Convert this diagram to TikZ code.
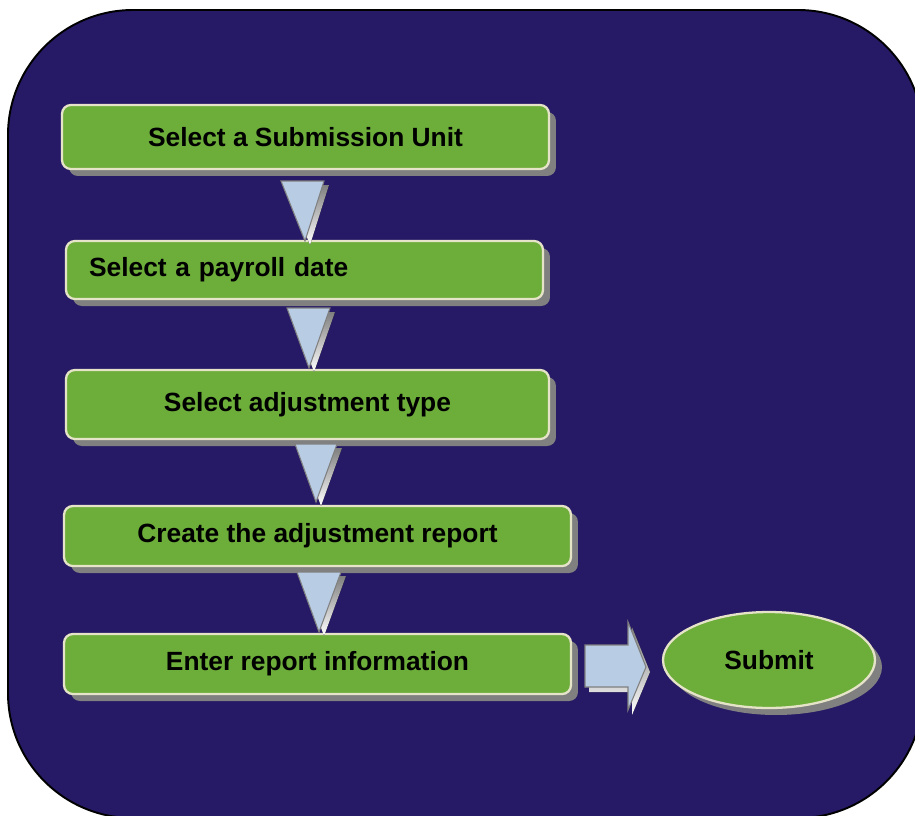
\documentclass[tikz,border=0pt]{standalone}
\usepackage{fontspec}
\setmainfont{Liberation Sans}
\usetikzlibrary{shapes.geometric,shadows}
\definecolor{navy}{RGB}{38,26,102}
\definecolor{leaf}{RGB}{109,174,58}
\definecolor{rim}{RGB}{230,228,200}
\definecolor{sky}{RGB}{184,204,228}
\definecolor{shade}{RGB}{128,128,128}

\begin{document}
\begin{tikzpicture}[x=0.02cm,y=-0.02cm,
	stepbox/.style={draw=rim,line width=1.3pt,fill=leaf,rounded corners=5pt,inner sep=0pt,
		font=\fontsize{15}{18}\selectfont\bfseries,
		drop shadow={shadow xshift=0.14cm,shadow yshift=-0.14cm,fill=shade,opacity=1}},
	pointer/.style={fill=sky,draw=shade,line width=0.6pt,line join=miter}]
		\useasboundingbox (0,0) rectangle (915,815);
		% background panel
		\draw[fill=navy,line width=1.1pt,rounded corners=2.5cm] (8,10) rectangle (923,818);

		% the steps
		\node[stepbox,minimum width=9.74cm,minimum height=1.28cm] (unit) at (305.5,137) {Select a Submission Unit};
		\node[stepbox,minimum width=9.54cm,minimum height=1.16cm,text width=8.62cm,inner xsep=0.46cm,align=left] (date) at (304.5,270) {Select a payroll date};
		\node[stepbox,minimum width=9.66cm,minimum height=1.38cm] (type) at (307.5,404.5) {Select adjustment type};
		\node[stepbox,minimum width=10.14cm,minimum height=1.2cm] (report) at (317.5,536) {Create the adjustment report};
		\node[stepbox,minimum width=10.14cm,minimum height=1.2cm] (info) at (317.5,664) {Enter report information};
		\node[stepbox,ellipse,minimum width=4.24cm,minimum height=1.92cm] (submit) at (769,660) {Submit};

		% down pointers
		\fill[shade] (286,185)--(329,185)--(310,245)--cycle;
		\draw[pointer] (281,181)--(324,181)--(305,241)--cycle;

		\fill[shade] (292,312)--(335,312)--(314,372)--cycle;
		\draw[pointer] (287,308)--(330,308)--(309,368)--cycle;

		\fill[shade] (300,448)--(342,448)--(321,506)--cycle;
		\draw[pointer] (295,444)--(337,444)--(316,502)--cycle;

		\fill[shade] (302,576)--(346,576)--(324,636)--cycle;
		\draw[pointer] (297,572)--(341,572)--(319,632)--cycle;

		% right pointer to submit
		\fill[shade] (589,650)--(632,650)--(632,627)--(650,672)--(632,715)--(632,692)--(589,692)--cycle;
		\draw[pointer] (585,645)--(628,645)--(628,622)--(646,667)--(628,710)--(628,687)--(585,687)--cycle;
\end{tikzpicture}
\end{document}
